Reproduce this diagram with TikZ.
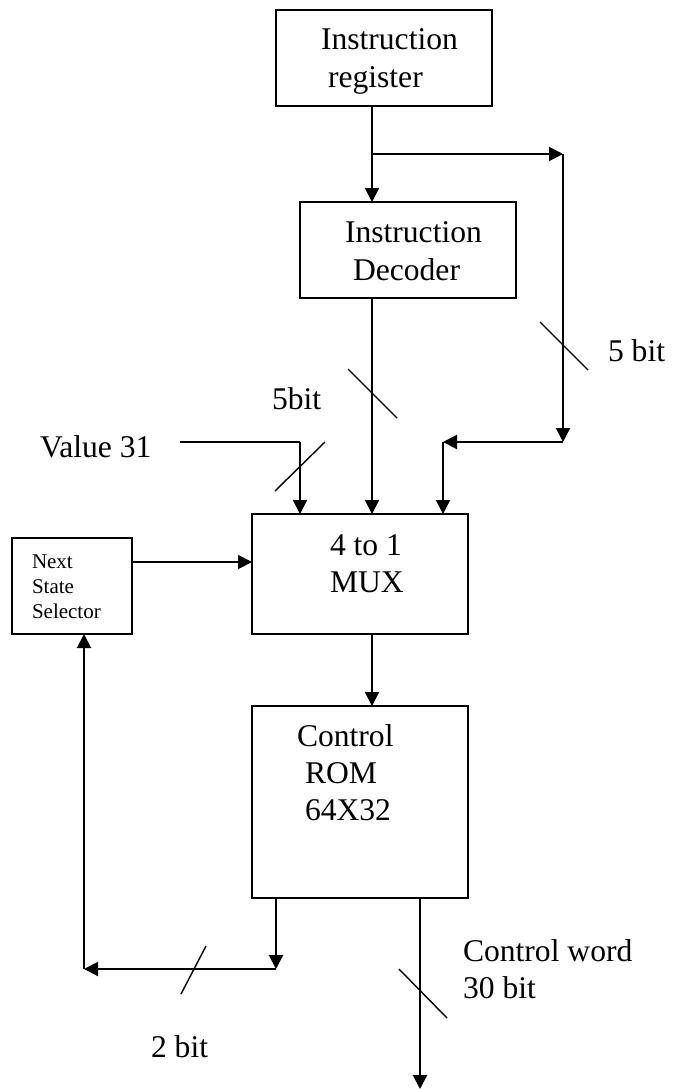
\documentclass[tikz,border=0pt]{standalone}
\usepackage{fontspec}
\setmainfont{Liberation Serif}
\usetikzlibrary{arrows.meta,calc}
\begin{document}
\begin{tikzpicture}[x=1pt,y=-1pt,
  box/.style={draw,line width=2.2pt,rectangle,inner sep=0pt,outer sep=0pt},
  lbl/.style={anchor=base west,inner sep=0pt,outer sep=0pt,font=\fontsize{31.6pt}{38pt}\selectfont},
  small/.style={anchor=base west,inner sep=0pt,outer sep=0pt,font=\fontsize{21pt}{25pt}\selectfont},
  wire/.style={line width=2pt},
  arr/.style={line width=2pt,-{Triangle[length=14pt,width=14pt]}},
  tick/.style={line width=1.4pt}]
\useasboundingbox (0,0) rectangle (673,1089);
% boxes
\node[box,minimum width=216pt,minimum height=96pt] (ir) at (384,58) {};
\node[box,minimum width=216pt,minimum height=96pt] (dec) at (408,250) {};
\node[box,minimum width=216pt,minimum height=120pt] (mux) at (360,574) {};
\node[box,minimum width=216pt,minimum height=192pt] (rom) at (360,802) {};
\node[box,minimum width=120pt,minimum height=96pt] (nss) at (72,586) {};
% texts
\node[lbl] (ir1) at (321,50) {Instruction};
\node[lbl] (ir2) at (328,88) {register};
\node[lbl] (de1) at (345,242) {Instruction};
\node[lbl] (de2) at (353,280) {Decoder};
\node[lbl] (mx1) at (330,555) {4 to 1};
\node[lbl] (mx2) at (330,592) {MUX};
\node[lbl] (ro1) at (297,746) {Control};
\node[lbl] (ro2) at (305,783) {ROM};
\node[lbl] (ro3) at (305,820) {64X32};
\node[small] (ns1) at (32,568) {Next};
\node[small] (ns2) at (32,593) {State};
\node[small] (ns3) at (32,618) {Selector};
\node[lbl] (l5a) at (272,409) {5bit};
\node[lbl] (l5b) at (608,361) {5 bit};
\node[lbl] (v31) at (40,457) {Value 31};
\node[lbl] (cw1) at (463,961) {Control word};
\node[lbl] (cw2) at (463,998) {30 bit};
\node[lbl] (l2) at (151,1057) {2 bit};
% coordinates
\coordinate (br) at (372,154);
\coordinate (rt) at (563,154);
\coordinate (rb) at (563,442);
\coordinate (m3) at (443,442);
\coordinate (vs) at (180,442);
\coordinate (vc) at (300,442);
\coordinate (fb) at (276,969);
\coordinate (fl) at (84,969);
\coordinate (out) at (420,1089);
% connectors
\draw[arr] (br |- ir.south) -- (br |- dec.north);
\draw[arr] (br) -- (rt);
\draw[arr] (rt) -- (rb);
\draw[arr] (rb) -- (m3);
\draw[arr] (m3) -- (m3 |- mux.north);
\draw[arr] (br |- dec.south) -- (br |- mux.north);
\draw[wire] (vs) -- (vc);
\draw[arr] (vc) -- (vc |- mux.north);
\draw[arr] (nss.east |- 0,562) -- (mux.west |- 0,562);
\draw[arr] (br |- mux.south) -- (br |- rom.north);
\draw[arr] (fb |- rom.south) -- (fb);
\draw[arr] (fb) -- (fl);
\draw[arr] (fl) -- (fl |- nss.south);
\draw[arr] (out |- rom.south) -- (out);
% bus ticks
\draw[tick] (348,369) -- (397,418);
\draw[tick] (540,322) -- (588,370);
\draw[tick] (275,491) -- (325,442);
\draw[tick] (181,994) -- (206,946);
\draw[tick] (399,969) -- (447,1018);
\end{tikzpicture}
\end{document}
